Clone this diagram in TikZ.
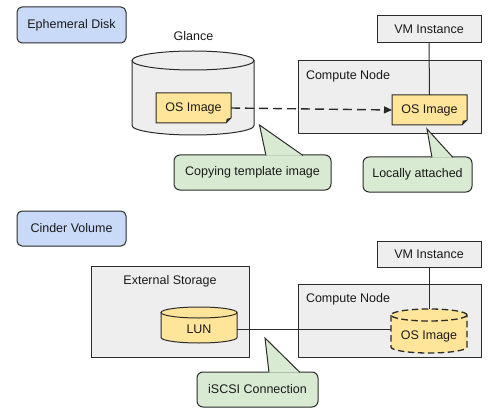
\documentclass[tikz,border=0pt]{standalone}
\usepackage{fontspec}
\setmainfont{Liberation Sans}
\usetikzlibrary{arrows.meta,calc}
\definecolor{bordercol}{HTML}{2B2B2B}
\definecolor{tagblue}{HTML}{C9DAF8}
\definecolor{boxgray}{HTML}{EEEEEE}
\definecolor{imgyellow}{HTML}{FFE599}
\definecolor{notegreen}{HTML}{D9EAD3}
\definecolor{textcol}{HTML}{1A1A1A}
\newcommand\osimgshape[2]{%
  \begin{scope}[shift={(#1,#2)}]
    \draw[bd, fill=imgyellow] (-37.5,-15) -- (37.5,-15) -- (37.5,10) -- (32.5,15) -- (-37.5,15) -- cycle;
    \fill[bordercol] (37.5,10) -- (32.5,15) -- (33.2,10.7) -- cycle;
  \end{scope}}
\begin{document}
\begin{tikzpicture}[x=1pt,y=-1pt,
  bd/.style={draw=bordercol,line width=1pt},
  every node/.style={font=\fontsize{12.5}{14}\selectfont, text=textcol, inner sep=0pt, outer sep=0pt},
  tag/.style={bd, fill=tagblue, rounded corners=5pt, minimum width=109pt},
  graybox/.style={bd, fill=boxgray},
  note/.style={bd, fill=notegreen, rounded corners=6pt, minimum height=35pt},
  wire/.style={draw=bordercol, line width=1pt},
  dashwire/.style={draw=bordercol, line width=1.4pt, dash pattern=on 9pt off 5pt},
  cyldash/.style={bd, line width=1.3pt, dash pattern=on 6.5pt off 3.5pt},
]
\useasboundingbox (0,0) rectangle (500,414);

% ---------- Ephemeral disk ----------
\node[tag, minimum height=36pt] (eph) at (71.5,25) {Ephemeral Disk};

% Glance cylinder
\node (glance) at (193.5,36) {Glance};
\fill[boxgray] (132,60.5) -- (132,125.5) arc[start angle=180,end angle=360,x radius=61pt,y radius=9.5pt] -- (254,60.5) arc[start angle=0,end angle=180,x radius=61pt,y radius=9.5pt] -- cycle;
\draw[bd] (132,60.5) -- (132,125.5) arc[start angle=180,end angle=360,x radius=61pt,y radius=9.5pt] -- (254,60.5);
\draw[bd] (193,60.5) ellipse[x radius=61pt, y radius=9.5pt];

\osimgshape{193.5}{108}
\node[minimum width=75pt, minimum height=30pt] (os1) at (193.5,108) {OS Image};

% Compute node (top)
\node[graybox, minimum width=183pt, minimum height=73pt] (cn1) at (389.5,97.5) {};
\node[anchor=west] (cn1l) at (306,76) {Compute Node};
\node[graybox, minimum width=104pt, minimum height=27pt] (vm1) at (429,29.5) {VM Instance};
\osimgshape{429.5}{110}
\node[minimum width=75pt, minimum height=30pt] (os2) at (429.5,110) {OS Image};
\draw[wire] (vm1.south) -- (os2.north);

\draw[dashwire, -{Stealth[length=8pt,width=7pt,inset=0pt]}] (os1.east) -- (os2.west);

% callouts (top)
\node[note, minimum width=157pt] (n1) at (252.5,172.5) {Copying template image};
\coordinate (t1) at (259.5,125);
\fill[notegreen] ($(n1.north west)+(91.5,0.7)$) -- (t1) -- ($(n1.north west)+(129.5,0.7)$) -- cycle;
\draw[bd] ($(n1.north west)+(92,0.5)$) -- (t1) -- ($(n1.north west)+(129,0.5)$);

\node[note, minimum width=109pt] (n2) at (417.5,174.5) {Locally attached};
\coordinate (t2) at (427,129);
\fill[notegreen] ($(n2.north west)+(68.5,0.7)$) -- (t2) -- ($(n2.north west)+(90.5,0.7)$) -- cycle;
\draw[bd] ($(n2.north west)+(69,0.5)$) -- (t2) -- ($(n2.north west)+(90,0.5)$);

% ---------- Cinder volume ----------
\node[tag, minimum height=35pt] (cin) at (71.5,228.5) {Cinder Volume};

\node[graybox, minimum width=158pt, minimum height=91pt] (ext) at (170,311.5) {};
\node (extl) at (170,281.5) {External Storage};

% LUN cylinder
\fill[imgyellow] (161,312.5) -- (161,337.5) arc[start angle=180,end angle=360,x radius=38pt,y radius=5.5pt] -- (237,312.5) arc[start angle=0,end angle=180,x radius=38pt,y radius=5.5pt] -- cycle;
\draw[bd] (161,312.5) -- (161,337.5) arc[start angle=180,end angle=360,x radius=38pt,y radius=5.5pt] -- (237,312.5);
\draw[bd] (199,312.5) ellipse[x radius=38pt, y radius=5.5pt];
\node (lun) at (199,329) {LUN};
\coordinate (lunR) at (237,329);

% Compute node (bottom)
\node[graybox, minimum width=183pt, minimum height=73pt] (cn2) at (389.5,320.5) {};
\node[anchor=west] (cn2l) at (306,299) {Compute Node};
\node[graybox, minimum width=104pt, minimum height=26pt] (vm2) at (429,254) {VM Instance};

% dashed OS image cylinder
\fill[imgyellow] (391,315) -- (391,347) arc[start angle=180,end angle=360,x radius=38pt,y radius=6pt] -- (467,315) arc[start angle=0,end angle=180,x radius=38pt,y radius=6pt] -- cycle;
\draw[cyldash] (391,315) -- (391,347) arc[start angle=180,end angle=360,x radius=38pt,y radius=6pt] -- (467,315);
\draw[cyldash] (429,315) ellipse[x radius=38pt, y radius=6pt];
\node (os3) at (429,336) {OS Image};
\coordinate (os3L) at (391,329);
\coordinate (os3T) at (429,309);

\draw[wire] (vm2.south) -- (os3T);
\draw[wire] (lunR) -- (os3L);

% callout (bottom)
\node[note, minimum width=121pt] (n3) at (257.5,389.5) {iSCSI Connection};
\coordinate (t3) at (265,338);
\fill[notegreen] ($(n3.north west)+(71.5,0.7)$) -- (t3) -- ($(n3.north west)+(103.5,0.7)$) -- cycle;
\draw[bd] ($(n3.north west)+(72,0.5)$) -- (t3) -- ($(n3.north west)+(103,0.5)$);
\end{tikzpicture}
\end{document}
